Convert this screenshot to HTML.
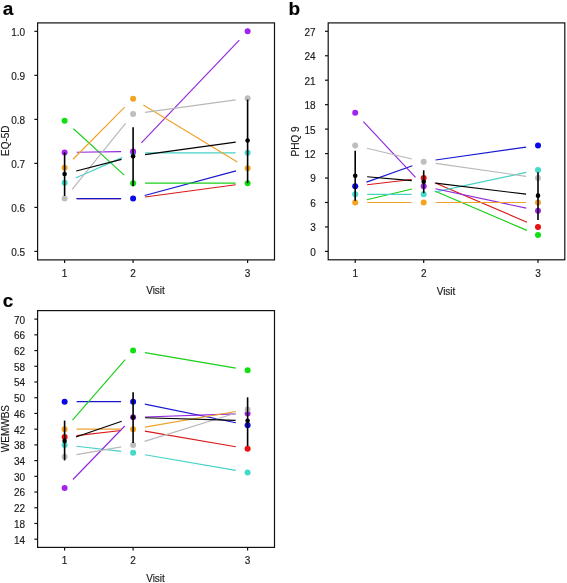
<!DOCTYPE html>
<html><head><meta charset="utf-8"><style>
html,body{margin:0;padding:0;background:#fff;width:567px;height:583px;overflow:hidden}
svg{display:block}
text{font-family:"Liberation Sans",sans-serif}
svg{-webkit-font-smoothing:antialiased;will-change:transform;filter:blur(0.3px)}
</style></head><body>
<svg width="567" height="583" viewBox="0 0 567 583">
<rect width="567" height="583" fill="#fff"/>
<g>
<rect x="37.6" y="22.9" width="236.9" height="236.99999999999997" fill="none" stroke="#111" stroke-width="1.2"/>
<line x1="34.40" y1="251.40" x2="37.60" y2="251.40" stroke="#111" stroke-width="1.2"/>
<text x="25.1" y="255.8" font-size="10" text-anchor="end" font-weight="normal" fill="#1a1a1a" stroke="#1a1a1a" stroke-width="0.15">0.5</text>
<line x1="34.40" y1="207.39" x2="37.60" y2="207.39" stroke="#111" stroke-width="1.2"/>
<text x="25.1" y="211.79000000000002" font-size="10" text-anchor="end" font-weight="normal" fill="#1a1a1a" stroke="#1a1a1a" stroke-width="0.15">0.6</text>
<line x1="34.40" y1="163.38" x2="37.60" y2="163.38" stroke="#111" stroke-width="1.2"/>
<text x="25.1" y="167.78000000000003" font-size="10" text-anchor="end" font-weight="normal" fill="#1a1a1a" stroke="#1a1a1a" stroke-width="0.15">0.7</text>
<line x1="34.40" y1="119.37" x2="37.60" y2="119.37" stroke="#111" stroke-width="1.2"/>
<text x="25.1" y="123.76999999999998" font-size="10" text-anchor="end" font-weight="normal" fill="#1a1a1a" stroke="#1a1a1a" stroke-width="0.15">0.8</text>
<line x1="34.40" y1="75.36" x2="37.60" y2="75.36" stroke="#111" stroke-width="1.2"/>
<text x="25.1" y="79.75999999999999" font-size="10" text-anchor="end" font-weight="normal" fill="#1a1a1a" stroke="#1a1a1a" stroke-width="0.15">0.9</text>
<line x1="34.40" y1="31.35" x2="37.60" y2="31.35" stroke="#111" stroke-width="1.2"/>
<text x="25.1" y="35.75" font-size="10" text-anchor="end" font-weight="normal" fill="#1a1a1a" stroke="#1a1a1a" stroke-width="0.15">1.0</text>
<line x1="64.60" y1="259.90" x2="64.60" y2="263.10" stroke="#111" stroke-width="1.2"/>
<text x="64.6" y="276.9" font-size="10" text-anchor="middle" font-weight="normal" fill="#1a1a1a" stroke="#1a1a1a" stroke-width="0.15">1</text>
<line x1="133.10" y1="259.90" x2="133.10" y2="263.10" stroke="#111" stroke-width="1.2"/>
<text x="133.1" y="276.9" font-size="10" text-anchor="middle" font-weight="normal" fill="#1a1a1a" stroke="#1a1a1a" stroke-width="0.15">2</text>
<line x1="247.60" y1="259.90" x2="247.60" y2="263.10" stroke="#111" stroke-width="1.2"/>
<text x="247.6" y="276.9" font-size="10" text-anchor="middle" font-weight="normal" fill="#1a1a1a" stroke="#1a1a1a" stroke-width="0.15">3</text>
<line x1="76.60" y1="198.59" x2="121.10" y2="198.59" stroke="#D81818" stroke-width="1.15"/>
<line x1="144.99" y1="196.99" x2="235.71" y2="184.78" stroke="#D81818" stroke-width="1.15"/>
<line x1="76.60" y1="198.59" x2="121.10" y2="198.59" stroke="#1818D0" stroke-width="1.15"/>
<line x1="144.69" y1="195.47" x2="236.01" y2="170.90" stroke="#1818D0" stroke-width="1.15"/>
<line x1="73.47" y1="128.78" x2="124.23" y2="175.10" stroke="#18D018" stroke-width="1.15"/>
<line x1="145.10" y1="183.18" x2="235.60" y2="183.18" stroke="#18D018" stroke-width="1.15"/>
<line x1="75.60" y1="177.94" x2="122.10" y2="157.62" stroke="#44D4C6" stroke-width="1.15"/>
<line x1="145.10" y1="152.82" x2="235.60" y2="152.82" stroke="#44D4C6" stroke-width="1.15"/>
<line x1="76.60" y1="152.22" x2="121.10" y2="151.65" stroke="#9228DC" stroke-width="1.15"/>
<line x1="141.38" y1="142.81" x2="239.32" y2="40.04" stroke="#9228DC" stroke-width="1.15"/>
<line x1="73.05" y1="159.26" x2="124.65" y2="107.21" stroke="#EEA22A" stroke-width="1.15"/>
<line x1="143.36" y1="104.91" x2="237.34" y2="161.99" stroke="#EEA22A" stroke-width="1.15"/>
<line x1="72.16" y1="189.27" x2="125.54" y2="123.41" stroke="#B8B8B8" stroke-width="1.15"/>
<line x1="144.99" y1="112.44" x2="235.71" y2="99.89" stroke="#B8B8B8" stroke-width="1.15"/>
<line x1="76.22" y1="170.96" x2="121.48" y2="159.33" stroke="#000" stroke-width="1.15"/>
<line x1="144.99" y1="154.69" x2="235.71" y2="142.14" stroke="#000" stroke-width="1.15"/>
<circle cx="133.10" cy="198.59" r="3.0" fill="#0808E8"/>
<circle cx="64.60" cy="120.69" r="3.0" fill="#10E010"/>
<circle cx="133.10" cy="183.18" r="3.0" fill="#10E010"/>
<circle cx="247.60" cy="183.18" r="3.0" fill="#10E010"/>
<circle cx="64.60" cy="182.74" r="3.0" fill="#42DACA"/>
<circle cx="133.10" cy="152.82" r="3.0" fill="#42DACA"/>
<circle cx="247.60" cy="152.82" r="3.0" fill="#42DACA"/>
<circle cx="64.60" cy="152.38" r="3.0" fill="#A024EC"/>
<circle cx="133.10" cy="151.50" r="3.0" fill="#A024EC"/>
<circle cx="247.60" cy="31.35" r="3.0" fill="#A024EC"/>
<circle cx="64.60" cy="167.78" r="3.0" fill="#F4A420"/>
<circle cx="133.10" cy="98.69" r="3.0" fill="#F4A420"/>
<circle cx="247.60" cy="168.22" r="3.0" fill="#F4A420"/>
<circle cx="64.60" cy="198.59" r="3.0" fill="#BEBEBE"/>
<circle cx="133.10" cy="114.09" r="3.0" fill="#BEBEBE"/>
<circle cx="247.60" cy="98.25" r="3.0" fill="#BEBEBE"/>
<line x1="64.60" y1="152.38" x2="64.60" y2="195.95" stroke="#000" stroke-width="1.6"/>
<line x1="133.10" y1="127.29" x2="133.10" y2="186.27" stroke="#000" stroke-width="1.6"/>
<line x1="247.60" y1="99.57" x2="247.60" y2="183.18" stroke="#000" stroke-width="1.6"/>
<circle cx="64.60" cy="173.94" r="2.3" fill="#000"/>
<circle cx="133.10" cy="156.34" r="2.3" fill="#000"/>
<circle cx="247.60" cy="140.49" r="2.3" fill="#000"/>
<text x="8.6" y="140.7" font-size="10" text-anchor="middle" font-weight="normal" fill="#1a1a1a" stroke="#1a1a1a" stroke-width="0.15" transform="rotate(-90 8.6 140.7)">EQ-5D</text>
<text x="155.5" y="294.0" font-size="10" text-anchor="middle" font-weight="normal" fill="#1a1a1a" stroke="#1a1a1a" stroke-width="0.15">Visit</text>
<text x="2.8" y="15.2" font-size="19" text-anchor="start" font-weight="bold" fill="#000" stroke="#000" stroke-width="0.15">a</text>
</g>
<rect x="328.2" y="22.9" width="236.59999999999997" height="236.9" fill="none" stroke="#111" stroke-width="1.2"/>
<line x1="325.00" y1="251.40" x2="328.20" y2="251.40" stroke="#111" stroke-width="1.2"/>
<text x="315.7" y="255.8" font-size="10" text-anchor="end" font-weight="normal" fill="#1a1a1a" stroke="#1a1a1a" stroke-width="0.15">0</text>
<line x1="325.00" y1="226.94" x2="328.20" y2="226.94" stroke="#111" stroke-width="1.2"/>
<text x="315.7" y="231.34400000000002" font-size="10" text-anchor="end" font-weight="normal" fill="#1a1a1a" stroke="#1a1a1a" stroke-width="0.15">3</text>
<line x1="325.00" y1="202.49" x2="328.20" y2="202.49" stroke="#111" stroke-width="1.2"/>
<text x="315.7" y="206.888" font-size="10" text-anchor="end" font-weight="normal" fill="#1a1a1a" stroke="#1a1a1a" stroke-width="0.15">6</text>
<line x1="325.00" y1="178.03" x2="328.20" y2="178.03" stroke="#111" stroke-width="1.2"/>
<text x="315.7" y="182.43200000000002" font-size="10" text-anchor="end" font-weight="normal" fill="#1a1a1a" stroke="#1a1a1a" stroke-width="0.15">9</text>
<line x1="325.00" y1="153.58" x2="328.20" y2="153.58" stroke="#111" stroke-width="1.2"/>
<text x="315.7" y="157.97600000000003" font-size="10" text-anchor="end" font-weight="normal" fill="#1a1a1a" stroke="#1a1a1a" stroke-width="0.15">12</text>
<line x1="325.00" y1="129.12" x2="328.20" y2="129.12" stroke="#111" stroke-width="1.2"/>
<text x="315.7" y="133.52" font-size="10" text-anchor="end" font-weight="normal" fill="#1a1a1a" stroke="#1a1a1a" stroke-width="0.15">15</text>
<line x1="325.00" y1="104.66" x2="328.20" y2="104.66" stroke="#111" stroke-width="1.2"/>
<text x="315.7" y="109.06400000000002" font-size="10" text-anchor="end" font-weight="normal" fill="#1a1a1a" stroke="#1a1a1a" stroke-width="0.15">18</text>
<line x1="325.00" y1="80.21" x2="328.20" y2="80.21" stroke="#111" stroke-width="1.2"/>
<text x="315.7" y="84.60800000000003" font-size="10" text-anchor="end" font-weight="normal" fill="#1a1a1a" stroke="#1a1a1a" stroke-width="0.15">21</text>
<line x1="325.00" y1="55.75" x2="328.20" y2="55.75" stroke="#111" stroke-width="1.2"/>
<text x="315.7" y="60.15200000000004" font-size="10" text-anchor="end" font-weight="normal" fill="#1a1a1a" stroke="#1a1a1a" stroke-width="0.15">24</text>
<line x1="325.00" y1="31.30" x2="328.20" y2="31.30" stroke="#111" stroke-width="1.2"/>
<text x="315.7" y="35.69600000000002" font-size="10" text-anchor="end" font-weight="normal" fill="#1a1a1a" stroke="#1a1a1a" stroke-width="0.15">27</text>
<line x1="355.20" y1="259.80" x2="355.20" y2="263.00" stroke="#111" stroke-width="1.2"/>
<text x="355.2" y="276.8" font-size="10" text-anchor="middle" font-weight="normal" fill="#1a1a1a" stroke="#1a1a1a" stroke-width="0.15">1</text>
<line x1="423.70" y1="259.80" x2="423.70" y2="263.00" stroke="#111" stroke-width="1.2"/>
<text x="423.7" y="276.8" font-size="10" text-anchor="middle" font-weight="normal" fill="#1a1a1a" stroke="#1a1a1a" stroke-width="0.15">2</text>
<line x1="538.00" y1="259.80" x2="538.00" y2="263.00" stroke="#111" stroke-width="1.2"/>
<text x="538.0" y="276.8" font-size="10" text-anchor="middle" font-weight="normal" fill="#1a1a1a" stroke="#1a1a1a" stroke-width="0.15">3</text>
<line x1="367.12" y1="184.77" x2="411.78" y2="179.45" stroke="#D81818" stroke-width="1.15"/>
<line x1="434.73" y1="182.75" x2="526.97" y2="222.22" stroke="#D81818" stroke-width="1.15"/>
<line x1="366.50" y1="182.15" x2="412.40" y2="165.76" stroke="#1818D0" stroke-width="1.15"/>
<line x1="435.58" y1="160.03" x2="526.12" y2="147.12" stroke="#1818D0" stroke-width="1.15"/>
<line x1="366.87" y1="199.71" x2="412.03" y2="188.96" stroke="#18D018" stroke-width="1.15"/>
<line x1="434.73" y1="190.91" x2="526.97" y2="230.37" stroke="#18D018" stroke-width="1.15"/>
<line x1="367.20" y1="194.34" x2="411.70" y2="194.34" stroke="#44D4C6" stroke-width="1.15"/>
<line x1="435.43" y1="191.83" x2="526.27" y2="172.39" stroke="#44D4C6" stroke-width="1.15"/>
<line x1="363.39" y1="121.59" x2="415.51" y2="177.41" stroke="#9228DC" stroke-width="1.15"/>
<line x1="435.43" y1="188.69" x2="526.27" y2="208.13" stroke="#9228DC" stroke-width="1.15"/>
<line x1="367.20" y1="202.49" x2="411.70" y2="202.49" stroke="#EEA22A" stroke-width="1.15"/>
<line x1="435.70" y1="202.49" x2="526.00" y2="202.49" stroke="#EEA22A" stroke-width="1.15"/>
<line x1="366.87" y1="148.20" x2="412.03" y2="158.95" stroke="#B8B8B8" stroke-width="1.15"/>
<line x1="435.58" y1="163.42" x2="526.12" y2="176.34" stroke="#B8B8B8" stroke-width="1.15"/>
<line x1="367.15" y1="176.79" x2="411.75" y2="180.66" stroke="#000" stroke-width="1.15"/>
<line x1="435.61" y1="183.15" x2="526.09" y2="194.19" stroke="#000" stroke-width="1.15"/>
<circle cx="423.70" cy="178.03" r="3.0" fill="#E81010"/>
<circle cx="538.00" cy="226.94" r="3.0" fill="#E81010"/>
<circle cx="355.20" cy="186.18" r="3.0" fill="#0808E8"/>
<circle cx="538.00" cy="145.42" r="3.0" fill="#0808E8"/>
<circle cx="538.00" cy="235.10" r="3.0" fill="#10E010"/>
<circle cx="355.20" cy="194.34" r="3.0" fill="#42DACA"/>
<circle cx="423.70" cy="194.34" r="3.0" fill="#42DACA"/>
<circle cx="538.00" cy="169.88" r="3.0" fill="#42DACA"/>
<circle cx="355.20" cy="112.82" r="3.0" fill="#A024EC"/>
<circle cx="423.70" cy="186.18" r="3.0" fill="#A024EC"/>
<circle cx="538.00" cy="210.64" r="3.0" fill="#A024EC"/>
<circle cx="355.20" cy="202.49" r="3.0" fill="#F4A420"/>
<circle cx="423.70" cy="202.49" r="3.0" fill="#F4A420"/>
<circle cx="538.00" cy="202.49" r="3.0" fill="#F4A420"/>
<circle cx="355.20" cy="145.42" r="3.0" fill="#BEBEBE"/>
<circle cx="423.70" cy="161.73" r="3.0" fill="#BEBEBE"/>
<circle cx="538.00" cy="178.03" r="3.0" fill="#BEBEBE"/>
<line x1="355.20" y1="150.80" x2="355.20" y2="200.69" stroke="#000" stroke-width="1.6"/>
<line x1="423.70" y1="170.29" x2="423.70" y2="193.11" stroke="#000" stroke-width="1.6"/>
<line x1="538.00" y1="172.16" x2="538.00" y2="220.01" stroke="#000" stroke-width="1.6"/>
<circle cx="355.20" cy="175.75" r="2.3" fill="#000"/>
<circle cx="423.70" cy="181.70" r="2.3" fill="#000"/>
<circle cx="538.00" cy="195.64" r="2.3" fill="#000"/>
<text x="299.0" y="141.5" font-size="10" text-anchor="middle" font-weight="normal" fill="#1a1a1a" stroke="#1a1a1a" stroke-width="0.15" transform="rotate(-90 299.0 141.5)">PHQ 9</text>
<text x="446" y="295.0" font-size="10" text-anchor="middle" font-weight="normal" fill="#1a1a1a" stroke="#1a1a1a" stroke-width="0.15">Visit</text>
<text x="288.5" y="15.1" font-size="19" text-anchor="start" font-weight="bold" fill="#000" stroke="#000" stroke-width="0.15">b</text>
<rect x="37.6" y="310.6" width="236.9" height="236.79999999999995" fill="none" stroke="#111" stroke-width="1.2"/>
<line x1="34.40" y1="539.20" x2="37.60" y2="539.20" stroke="#111" stroke-width="1.2"/>
<text x="25.1" y="543.6" font-size="10" text-anchor="end" font-weight="normal" fill="#1a1a1a" stroke="#1a1a1a" stroke-width="0.15">14</text>
<line x1="34.40" y1="523.48" x2="37.60" y2="523.48" stroke="#111" stroke-width="1.2"/>
<text x="25.1" y="527.88" font-size="10" text-anchor="end" font-weight="normal" fill="#1a1a1a" stroke="#1a1a1a" stroke-width="0.15">18</text>
<line x1="34.40" y1="507.76" x2="37.60" y2="507.76" stroke="#111" stroke-width="1.2"/>
<text x="25.1" y="512.1600000000001" font-size="10" text-anchor="end" font-weight="normal" fill="#1a1a1a" stroke="#1a1a1a" stroke-width="0.15">22</text>
<line x1="34.40" y1="492.04" x2="37.60" y2="492.04" stroke="#111" stroke-width="1.2"/>
<text x="25.1" y="496.44" font-size="10" text-anchor="end" font-weight="normal" fill="#1a1a1a" stroke="#1a1a1a" stroke-width="0.15">26</text>
<line x1="34.40" y1="476.32" x2="37.60" y2="476.32" stroke="#111" stroke-width="1.2"/>
<text x="25.1" y="480.72" font-size="10" text-anchor="end" font-weight="normal" fill="#1a1a1a" stroke="#1a1a1a" stroke-width="0.15">30</text>
<line x1="34.40" y1="460.60" x2="37.60" y2="460.60" stroke="#111" stroke-width="1.2"/>
<text x="25.1" y="465.0" font-size="10" text-anchor="end" font-weight="normal" fill="#1a1a1a" stroke="#1a1a1a" stroke-width="0.15">34</text>
<line x1="34.40" y1="444.88" x2="37.60" y2="444.88" stroke="#111" stroke-width="1.2"/>
<text x="25.1" y="449.28000000000003" font-size="10" text-anchor="end" font-weight="normal" fill="#1a1a1a" stroke="#1a1a1a" stroke-width="0.15">38</text>
<line x1="34.40" y1="429.16" x2="37.60" y2="429.16" stroke="#111" stroke-width="1.2"/>
<text x="25.1" y="433.56" font-size="10" text-anchor="end" font-weight="normal" fill="#1a1a1a" stroke="#1a1a1a" stroke-width="0.15">42</text>
<line x1="34.40" y1="413.44" x2="37.60" y2="413.44" stroke="#111" stroke-width="1.2"/>
<text x="25.1" y="417.84000000000003" font-size="10" text-anchor="end" font-weight="normal" fill="#1a1a1a" stroke="#1a1a1a" stroke-width="0.15">46</text>
<line x1="34.40" y1="397.72" x2="37.60" y2="397.72" stroke="#111" stroke-width="1.2"/>
<text x="25.1" y="402.12" font-size="10" text-anchor="end" font-weight="normal" fill="#1a1a1a" stroke="#1a1a1a" stroke-width="0.15">50</text>
<line x1="34.40" y1="382.00" x2="37.60" y2="382.00" stroke="#111" stroke-width="1.2"/>
<text x="25.1" y="386.4" font-size="10" text-anchor="end" font-weight="normal" fill="#1a1a1a" stroke="#1a1a1a" stroke-width="0.15">54</text>
<line x1="34.40" y1="366.28" x2="37.60" y2="366.28" stroke="#111" stroke-width="1.2"/>
<text x="25.1" y="370.68" font-size="10" text-anchor="end" font-weight="normal" fill="#1a1a1a" stroke="#1a1a1a" stroke-width="0.15">58</text>
<line x1="34.40" y1="350.56" x2="37.60" y2="350.56" stroke="#111" stroke-width="1.2"/>
<text x="25.1" y="354.96000000000004" font-size="10" text-anchor="end" font-weight="normal" fill="#1a1a1a" stroke="#1a1a1a" stroke-width="0.15">62</text>
<line x1="34.40" y1="334.84" x2="37.60" y2="334.84" stroke="#111" stroke-width="1.2"/>
<text x="25.1" y="339.24" font-size="10" text-anchor="end" font-weight="normal" fill="#1a1a1a" stroke="#1a1a1a" stroke-width="0.15">66</text>
<line x1="34.40" y1="319.12" x2="37.60" y2="319.12" stroke="#111" stroke-width="1.2"/>
<text x="25.1" y="323.52" font-size="10" text-anchor="end" font-weight="normal" fill="#1a1a1a" stroke="#1a1a1a" stroke-width="0.15">70</text>
<line x1="64.60" y1="547.40" x2="64.60" y2="550.60" stroke="#111" stroke-width="1.2"/>
<text x="64.6" y="564.4" font-size="10" text-anchor="middle" font-weight="normal" fill="#1a1a1a" stroke="#1a1a1a" stroke-width="0.15">1</text>
<line x1="133.10" y1="547.40" x2="133.10" y2="550.60" stroke="#111" stroke-width="1.2"/>
<text x="133.1" y="564.4" font-size="10" text-anchor="middle" font-weight="normal" fill="#1a1a1a" stroke="#1a1a1a" stroke-width="0.15">2</text>
<line x1="247.60" y1="547.40" x2="247.60" y2="550.60" stroke="#111" stroke-width="1.2"/>
<text x="247.6" y="564.4" font-size="10" text-anchor="middle" font-weight="normal" fill="#1a1a1a" stroke="#1a1a1a" stroke-width="0.15">3</text>
<line x1="76.52" y1="435.65" x2="121.18" y2="430.53" stroke="#D81818" stroke-width="1.15"/>
<line x1="144.93" y1="431.19" x2="235.77" y2="446.78" stroke="#D81818" stroke-width="1.15"/>
<line x1="76.60" y1="401.65" x2="121.10" y2="401.65" stroke="#1818D0" stroke-width="1.15"/>
<line x1="144.85" y1="404.07" x2="235.85" y2="422.81" stroke="#1818D0" stroke-width="1.15"/>
<line x1="72.48" y1="420.11" x2="125.22" y2="359.61" stroke="#18D018" stroke-width="1.15"/>
<line x1="144.93" y1="352.59" x2="235.77" y2="368.18" stroke="#18D018" stroke-width="1.15"/>
<line x1="76.52" y1="446.25" x2="121.18" y2="451.37" stroke="#44D4C6" stroke-width="1.15"/>
<line x1="144.93" y1="454.77" x2="235.77" y2="470.36" stroke="#44D4C6" stroke-width="1.15"/>
<line x1="72.95" y1="479.49" x2="124.75" y2="425.99" stroke="#9228DC" stroke-width="1.15"/>
<line x1="145.09" y1="416.96" x2="235.61" y2="413.85" stroke="#9228DC" stroke-width="1.15"/>
<line x1="76.60" y1="429.16" x2="121.10" y2="429.16" stroke="#EEA22A" stroke-width="1.15"/>
<line x1="144.93" y1="427.13" x2="235.77" y2="411.54" stroke="#EEA22A" stroke-width="1.15"/>
<line x1="76.43" y1="454.63" x2="121.27" y2="446.92" stroke="#B8B8B8" stroke-width="1.15"/>
<line x1="144.57" y1="441.34" x2="236.13" y2="413.05" stroke="#B8B8B8" stroke-width="1.15"/>
<line x1="75.95" y1="437.04" x2="121.75" y2="421.28" stroke="#000" stroke-width="1.15"/>
<line x1="145.09" y1="417.72" x2="235.61" y2="420.36" stroke="#000" stroke-width="1.15"/>
<circle cx="64.60" cy="437.02" r="3.0" fill="#E81010"/>
<circle cx="247.60" cy="448.81" r="3.0" fill="#E81010"/>
<circle cx="64.60" cy="401.65" r="3.0" fill="#0808E8"/>
<circle cx="133.10" cy="401.65" r="3.0" fill="#0808E8"/>
<circle cx="247.60" cy="425.23" r="3.0" fill="#0808E8"/>
<circle cx="133.10" cy="350.56" r="3.0" fill="#10E010"/>
<circle cx="247.60" cy="370.21" r="3.0" fill="#10E010"/>
<circle cx="64.60" cy="444.88" r="3.0" fill="#42DACA"/>
<circle cx="133.10" cy="452.74" r="3.0" fill="#42DACA"/>
<circle cx="247.60" cy="472.39" r="3.0" fill="#42DACA"/>
<circle cx="64.60" cy="488.11" r="3.0" fill="#A024EC"/>
<circle cx="133.10" cy="417.37" r="3.0" fill="#A024EC"/>
<circle cx="247.60" cy="413.44" r="3.0" fill="#A024EC"/>
<circle cx="64.60" cy="429.16" r="3.0" fill="#F4A420"/>
<circle cx="133.10" cy="429.16" r="3.0" fill="#F4A420"/>
<circle cx="64.60" cy="456.67" r="3.0" fill="#BEBEBE"/>
<circle cx="133.10" cy="444.88" r="3.0" fill="#BEBEBE"/>
<circle cx="247.60" cy="409.51" r="3.0" fill="#BEBEBE"/>
<line x1="64.60" y1="420.59" x2="64.60" y2="460.40" stroke="#000" stroke-width="1.6"/>
<line x1="133.10" y1="392.30" x2="133.10" y2="442.92" stroke="#000" stroke-width="1.6"/>
<line x1="247.60" y1="397.33" x2="247.60" y2="446.06" stroke="#000" stroke-width="1.6"/>
<circle cx="64.60" cy="440.95" r="2.3" fill="#000"/>
<circle cx="133.10" cy="417.37" r="2.3" fill="#000"/>
<circle cx="247.60" cy="420.71" r="2.3" fill="#000"/>
<text x="8.6" y="428.6" font-size="10" text-anchor="middle" font-weight="normal" fill="#1a1a1a" stroke="#1a1a1a" stroke-width="0.15" transform="rotate(-90 8.6 428.6)">WEMWBS</text>
<text x="155.5" y="582" font-size="10" text-anchor="middle" font-weight="normal" fill="#1a1a1a" stroke="#1a1a1a" stroke-width="0.15">Visit</text>
<text x="2.8" y="306.6" font-size="19" text-anchor="start" font-weight="bold" fill="#000" stroke="#000" stroke-width="0.15">c</text>
</svg></body></html>
